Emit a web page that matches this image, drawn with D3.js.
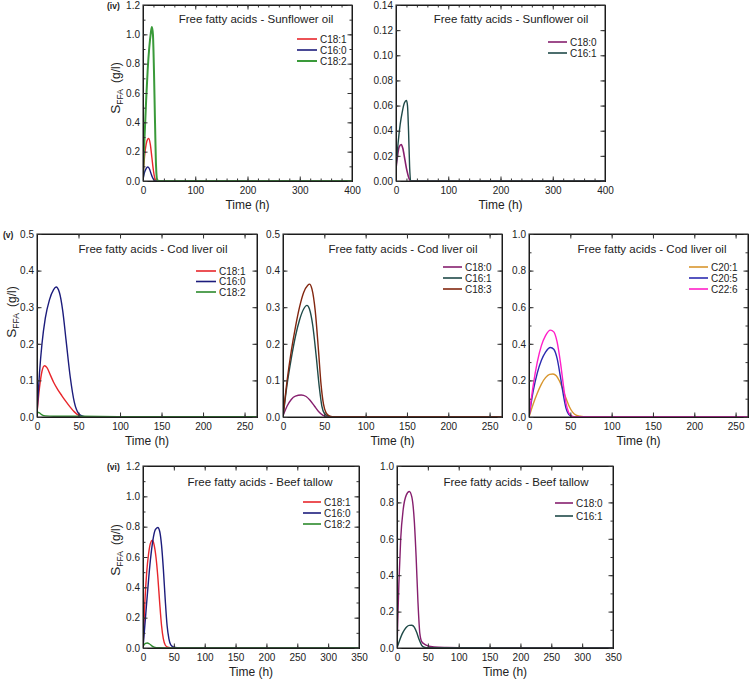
<!DOCTYPE html>
<html>
<head>
<meta charset="utf-8">
<script src="https://cdn.jsdelivr.net/npm/d3@7"></script>
<style>
  body { margin: 0; background: #fff; }
  svg text { font-family: "Liberation Sans", Arial, sans-serif; }
  .tick text { font-size: 10px; fill: #222; }
</style>
</head>
<body>
<svg id="chart" width="750" height="680"></svg>
<script>
// ---- data: [time (h), S_FFA (g/l)] ----
const sunC181 = [[0,0.02],[3,0.17],[6,0.25],[9,0.285],[11,0.29],[14,0.25],[17,0.16],[20,0.07],[23,0.015],[26,0.002],[30,0],[400,0]];
const sunC160 = [[0,0.01],[3,0.06],[6,0.085],[9,0.095],[12,0.085],[15,0.055],[18,0.025],[21,0.006],[24,0],[400,0]];
const sunC182 = [[0,0.02],[3,0.3],[6,0.55],[9,0.76],[12,0.91],[15,1.01],[17,1.05],[19,1.0],[21,0.75],[23,0.4],[25,0.1],[27,0.01],[30,0],[400,0]];
const sunC180 = [[0,0.01],[3,0.02],[6,0.027],[10,0.029],[13,0.026],[17,0.017],[21,0.008],[25,0.002],[28,0],[400,0]];
const sunC161 = [[0,0.01],[4,0.03],[8,0.045],[12,0.055],[16,0.062],[20,0.064],[22,0.06],[24,0.04],[26,0.012],[28,0],[400,0]];

const codC181 = [[0,0.01],[3,0.08],[6,0.125],[9,0.14],[12,0.135],[16,0.115],[20,0.095],[25,0.075],[30,0.058],[35,0.042],[40,0.027],[45,0.014],[50,0.005],[55,0.001],[60,0],[265,0]];
const codC160 = [[0,0.01],[3,0.12],[6,0.2],[10,0.27],[15,0.32],[20,0.348],[23,0.355],[27,0.34],[31,0.29],[35,0.21],[40,0.11],[45,0.04],[50,0.01],[55,0.002],[60,0],[265,0]];
const codC182 = [[0,0.013],[3,0.011],[6,0.006],[10,0.003],[20,0.002],[50,0.002],[100,0.001],[265,0.001]];
const codC180 = [[0,0.003],[5,0.03],[10,0.048],[15,0.057],[22,0.06],[28,0.056],[33,0.045],[38,0.03],[43,0.015],[48,0.005],[53,0.001],[60,0],[265,0]];
const codC161 = [[0,0],[5,0.09],[10,0.16],[15,0.22],[20,0.265],[25,0.295],[29,0.305],[32,0.295],[36,0.25],[40,0.17],[44,0.08],[47,0.03],[50,0.01],[55,0.002],[60,0],[265,0]];
const codC183 = [[0,0],[5,0.1],[10,0.18],[15,0.245],[20,0.3],[25,0.34],[30,0.36],[32,0.363],[35,0.35],[39,0.29],[43,0.18],[46,0.09],[49,0.035],[52,0.012],[56,0.003],[60,0.001],[265,0.001]];
const codC201 = [[0,0],[5,0.07],[10,0.13],[15,0.18],[20,0.215],[25,0.233],[29,0.235],[33,0.225],[37,0.195],[41,0.15],[45,0.1],[49,0.055],[53,0.025],[57,0.01],[62,0.004],[70,0.001],[265,0.001]];
const codC205 = [[0,0],[5,0.14],[10,0.24],[15,0.31],[20,0.355],[26,0.38],[30,0.37],[34,0.32],[38,0.22],[42,0.11],[45,0.045],[48,0.015],[52,0.003],[56,0],[265,0]];
const codC226 = [[0,0],[5,0.17],[10,0.3],[15,0.39],[20,0.445],[26,0.475],[30,0.465],[34,0.41],[38,0.3],[42,0.16],[45,0.07],[48,0.025],[52,0.005],[56,0.001],[265,0.001]];

const beefC181 = [[0,0],[3,0.3],[6,0.5],[9,0.62],[12,0.69],[15,0.71],[18,0.68],[21,0.6],[24,0.47],[27,0.3],[30,0.15],[33,0.06],[36,0.02],[40,0.005],[45,0.001],[50,0],[350,0]];
const beefC160 = [[0,0],[4,0.2],[8,0.4],[12,0.58],[16,0.71],[20,0.78],[24,0.795],[27,0.77],[30,0.68],[33,0.52],[36,0.32],[39,0.15],[42,0.06],[45,0.02],[50,0.005],[60,0.001],[350,0]];
const beefC182 = [[0,0.01],[4,0.03],[7,0.033],[10,0.028],[14,0.015],[18,0.006],[25,0.002],[40,0.001],[350,0.001]];
const beefC180 = [[0,0],[3,0.35],[6,0.6],[10,0.76],[15,0.84],[20,0.86],[24,0.83],[28,0.7],[31,0.5],[34,0.25],[37,0.08],[40,0.035],[45,0.02],[50,0.012],[60,0.006],[80,0.003],[120,0.001],[350,0.001]];
const beefC161 = [[0,0],[4,0.04],[8,0.075],[12,0.1],[16,0.117],[20,0.124],[24,0.125],[28,0.115],[32,0.085],[36,0.045],[40,0.015],[44,0.004],[50,0.001],[350,0]];

// tick labels
const xTicks400 = [0, 100, 200, 300, 400];
const xTicks265 = [0, 50, 100, 150, 200, 250];
const xTicks350 = [0, 50, 100, 150, 200, 250, 300, 350];
const yTicks12 = [0, 0.2, 0.4, 0.6, 0.8, 1.0, 1.2];
const yTicks014 = [0, 0.02, 0.04, 0.06, 0.08, 0.10, 0.12, 0.14];
const yTicks05 = [0, 0.1, 0.2, 0.3, 0.4, 0.5];
const yTicks10 = [0, 0.2, 0.4, 0.6, 0.8, 1.0];

const col = {
  red: '#e8262b', navy: '#1c1c7c', green: '#2b8a2b', purple: '#861f6e',
  teal: '#1f4a48', brown: '#82260f', orange: '#d8962e', blue: '#2b2bb0', pink: '#ff1fc8'
};

// ---- layout ----
const panels = [
  { box: [143, 352, 5, 181], xMax: 400, xTicks: xTicks400, xMinor: 20, yMax: 1.2, yTicks: yTicks12, yMinor: 0.1, fmt: '.1f',
    title: 'Free fatty acids - Sunflower oil', titleX: 256, titleY: 23, leg: [297, 317, 39, 11], yLabel: [120, 88], tag: ['(iv)', 107, 9],
    series: [['C18:1', sunC181, col.red, 1.4], ['C16:0', sunC160, col.navy, 1.4], ['C18:2', sunC182, '#3a9a3a', 2]] },
  { box: [396, 605, 5, 181], xMax: 400, xTicks: xTicks400, xMinor: 20, yMax: 0.14, yTicks: yTicks014, yMinor: null, fmt: '.2f',
    title: 'Free fatty acids - Sunflower oil', titleX: 511, titleY: 23, leg: [548, 567, 42, 11],
    series: [['C18:0', sunC180, col.purple, 1.6], ['C16:1', sunC161, col.teal, 1.4]] },
  { box: [37, 257, 234, 417], xMax: 265, xTicks: xTicks265, xMinor: null, yMax: 0.5, yTicks: yTicks05, yMinor: null, fmt: '.1f',
    title: 'Free fatty acids - Cod liver oil', titleX: 153, titleY: 253, leg: [196, 216, 271, 10.5], yLabel: [16, 312], tag: ['(v)', 3, 238],
    series: [['C18:1', codC181, col.red, 1.4], ['C16:0', codC160, col.navy, 1.4], ['C18:2', codC182, col.green, 1.4]] },
  { box: [283, 502, 234, 417], xMax: 265, xTicks: xTicks265, xMinor: null, yMax: 0.5, yTicks: yTicks05, yMinor: null, fmt: '.1f',
    title: 'Free fatty acids - Cod liver oil', titleX: 403, titleY: 253, leg: [443, 462, 267, 11],
    series: [['C18:0', codC180, col.purple, 1.4], ['C16:1', codC161, col.teal, 1.4], ['C18:3', codC183, col.brown, 1.4]] },
  { box: [529, 748, 234, 417], xMax: 265, xTicks: xTicks265, xMinor: null, yMax: 1.0, yTicks: yTicks10, yMinor: 0.1, fmt: '.1f',
    title: 'Free fatty acids - Cod liver oil', titleX: 652, titleY: 253, leg: [689, 708, 267, 11],
    series: [['C20:1', codC201, col.orange, 1.4], ['C20:5', codC205, col.blue, 1.4], ['C22:6', codC226, col.pink, 1.4]] },
  { box: [143, 359, 466, 648], xMax: 350, xTicks: xTicks350, xMinor: null, yMax: 1.2, yTicks: yTicks12, yMinor: 0.1, fmt: '.1f',
    title: 'Free fatty acids - Beef tallow', titleX: 260, titleY: 486, leg: [303, 321, 502, 11], yLabel: [120, 550], tag: ['(vi)', 107, 470],
    series: [['C18:1', beefC181, col.red, 1.4], ['C16:0', beefC160, col.navy, 1.4], ['C18:2', beefC182, col.green, 1.4]] },
  { box: [397, 613, 466, 648], xMax: 350, xTicks: xTicks350, xMinor: null, yMax: 1.0, yTicks: yTicks10, yMinor: 0.1, fmt: '.1f',
    title: 'Free fatty acids - Beef tallow', titleX: 516, titleY: 486, leg: [555, 573, 503, 13],
    series: [['C18:0', beefC180, col.purple, 1.4], ['C16:1', beefC161, col.teal, 1.4]] }
];

const svg = d3.select('#chart');
const FONT = '"Liberation Sans", Arial, sans-serif';

function drawPanel(p) {
  const [l, r, t, b] = p.box;
  const x = d3.scaleLinear().domain([0, p.xMax]).range([l, r]);
  const y = d3.scaleLinear().domain([0, p.yMax]).range([b, t]);
  const g = svg.append('g');

  // clip so curves stay inside the frame
  const clipId = 'clip' + l + '_' + t;
  svg.append('clipPath').attr('id', clipId)
    .append('rect').attr('x', l).attr('y', t - 2).attr('width', r - l).attr('height', b - t + 2);

  const line = d3.line().x(d => x(d[0])).y(d => y(d[1])).curve(d3.curveMonotoneX);
  p.series.forEach(s => {
    g.append('path')
      .datum(s[1])
      .attr('clip-path', 'url(#' + clipId + ')')
      .attr('fill', 'none')
      .attr('stroke', s[2])
      .attr('stroke-width', s[3])
      .attr('d', line);
  });

  // minor ticks
  const xMinorVals = p.xMinor ? d3.range(0, p.xMax + 0.001, p.xMinor) : p.xTicks;
  const yMinorVals = p.yMinor ? d3.range(0, p.yMax + 0.0001, p.yMinor) : p.yTicks;

  const mk = (axis, vals, size) => axis.tickValues(vals).tickSizeInner(size).tickSizeOuter(0).tickFormat('');

  // inward ticks on all four sides
  g.append('g').attr('transform', `translate(0,${b})`).call(mk(d3.axisTop(x), xMinorVals, 2.5));
  g.append('g').attr('transform', `translate(0,${t})`).call(mk(d3.axisBottom(x), xMinorVals, 2.5));
  g.append('g').attr('transform', `translate(${l},0)`).call(mk(d3.axisRight(y), yMinorVals, 2.5));
  g.append('g').attr('transform', `translate(${r},0)`).call(mk(d3.axisLeft(y), yMinorVals, 2.5));
  g.append('g').attr('transform', `translate(0,${b})`).call(mk(d3.axisTop(x), p.xTicks, 4.5));
  g.append('g').attr('transform', `translate(0,${t})`).call(mk(d3.axisBottom(x), p.xTicks, 4.5));
  g.append('g').attr('transform', `translate(${l},0)`).call(mk(d3.axisRight(y), p.yTicks, 4.5));
  g.append('g').attr('transform', `translate(${r},0)`).call(mk(d3.axisLeft(y), p.yTicks, 4.5));

  // labelled axes
  const xa = g.append('g').attr('transform', `translate(0,${b})`)
    .call(d3.axisBottom(x).tickValues(p.xTicks).tickSize(0).tickPadding(6).tickFormat(d3.format('d')));
  const ya = g.append('g').attr('transform', `translate(${l},0)`)
    .call(d3.axisLeft(y).tickValues(p.yTicks).tickSize(0).tickPadding(3).tickFormat(d3.format(p.fmt)));
  [xa, ya].forEach(a => a.attr('font-family', FONT).attr('font-size', 10.5).select('.domain').remove());
  g.selectAll('.tick line').attr('stroke', '#333');

  // frame
  g.append('rect').attr('x', l).attr('y', t).attr('width', r - l).attr('height', b - t)
    .attr('fill', 'none').attr('stroke', '#333').attr('stroke-width', 1.1);

  // x title
  g.append('text').attr('x', (l + r) / 2).attr('y', b + 28).attr('text-anchor', 'middle')
    .style('font-size', '12px').attr('fill', '#222').text('Time (h)');

  // panel title
  g.append('text').attr('x', p.titleX).attr('y', p.titleY).attr('text-anchor', 'middle')
    .style('font-size', '11.5px').attr('fill', '#222').text(p.title);

  // legend
  const [lx0, lx1, ly0, ldy] = p.leg;
  p.series.forEach((s, i) => {
    const yy = ly0 + i * ldy;
    g.append('line').attr('x1', lx0).attr('x2', lx1).attr('y1', yy).attr('y2', yy)
      .attr('stroke', s[2]).attr('stroke-width', Math.max(1.6, s[3]));
    g.append('text').attr('x', lx1 + 3).attr('y', yy + 3.5)
      .style('font-size', '10px').attr('fill', '#222').text(s[0]);
  });

  // y title
  if (p.yLabel) {
    const yt = g.append('text')
      .attr('transform', `translate(${p.yLabel[0]},${p.yLabel[1]}) rotate(-90)`)
      .attr('text-anchor', 'middle').style('font-size', '13.5px').attr('fill', '#222');
    yt.append('tspan').text('S');
    yt.append('tspan').attr('dy', 3).style('font-size', '8.5px').text('FFA');
    yt.append('tspan').attr('dy', -3).attr('dx', 6).style('font-size', '12px').text('(g/l)');
  }

  if (p.tag) {
    g.append('text').attr('x', p.tag[1]).attr('y', p.tag[2])
      .style('font-size', '8.5px').style('font-weight', 'bold').attr('fill', '#222').text(p.tag[0]);
  }
}

panels.forEach(drawPanel);
</script>
</body>
</html>
